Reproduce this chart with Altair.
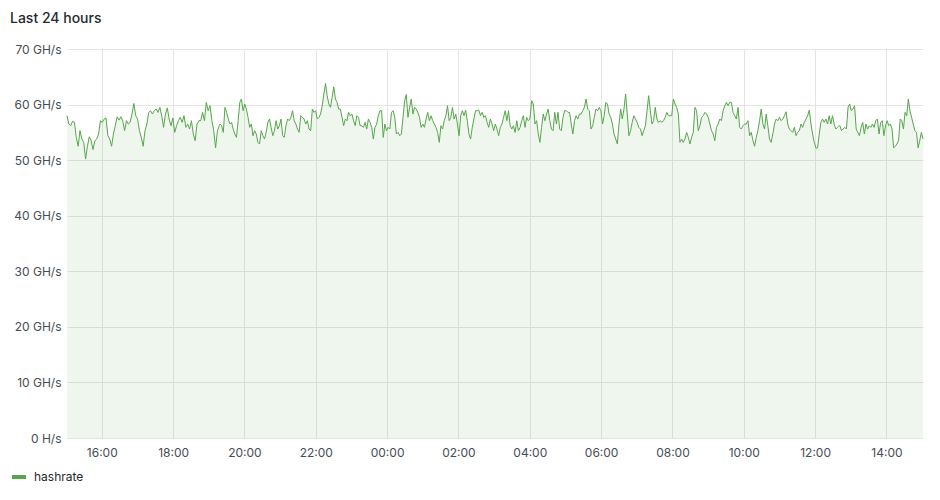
import altair as alt
import pandas as pd
import numpy as np

series_name = "hashrate"
title_text = "Last 24 hours"
y_ticks = [0, 10, 20, 30, 40, 50, 60, 70]
x_tick_hours = [16, 18, 20, 22, 0, 2, 4, 6, 8, 10, 12, 14]

# GH/s readings, six consecutive stretches of the 24 h window
seg_a = [58.0, 56.5, 56.2, 57.0, 56.8, 54.1, 52.5, 55.3, 53.8, 53.2, 50.2, 52.5, 54.2, 53.5, 51.9, 53.5,
         53.8, 54.7, 57.1, 56.8, 57.4, 57.6, 54.4, 53.8, 52.5, 54.7, 56.2, 57.8, 57.2, 57.8, 57.1, 55.3,
         57.1, 56.5, 56.8, 58.3, 60.2, 58.0, 57.4, 55.3, 54.1, 52.5, 55.3, 56.5, 58.6, 58.9, 58.3, 58.9,
         59.2, 58.6, 59.5, 58.0, 55.9, 58.3, 59.4, 57.4, 56.2, 57.6, 55.0, 56.2, 57.1, 57.7, 56.8, 58.0,
         55.9, 56.5, 55.6, 57.1, 54.7, 53.5, 56.5, 57.1, 57.1, 58.6, 57.1, 60.4, 58.9, 59.8, 57.1, 55.3,
         52.2, 55.3, 56.2]
seg_b = [56.5, 56.2, 55.0, 59.5, 58.6, 57.4, 56.5, 56.8, 55.6, 54.7, 54.1, 57.1, 60.4, 61.0, 58.9, 60.1,
         59.2, 57.7, 55.9, 56.5, 54.4, 55.3, 54.7, 53.2, 52.9, 55.3, 54.4, 53.8, 55.0, 56.8, 57.4, 55.9,
         54.4, 55.3, 57.1, 55.6, 56.2, 57.4, 54.4, 54.1, 56.2, 57.4, 57.1, 57.7, 58.9, 57.1, 56.5, 55.6,
         55.0, 58.0, 57.7, 57.4, 56.5, 57.1, 55.6, 55.3, 59.2, 58.6, 58.9, 57.4, 57.7, 58.3, 59.8, 61.9,
         63.8, 61.6, 60.1, 59.5, 61.3, 63.2, 61.0, 60.4, 59.2, 59.2, 57.7, 56.2, 57.4, 57.1, 58.6, 58.0,
         58.3, 57.1, 56.2, 58.0, 57.7, 56.2, 56.2, 55.9, 56.8, 55.6, 57.4, 56.8, 55.9, 53.8, 55.9]
seg_c = [56.5, 58.0, 58.9, 58.9, 54.1, 56.5, 55.3, 55.9, 55.6, 58.6, 58.9, 57.7, 54.7, 55.0, 54.4, 54.7,
         57.7, 60.7, 61.8, 57.7, 59.5, 61.0, 58.3, 59.5, 59.2, 58.6, 57.7, 55.9, 56.5, 55.9, 57.4, 58.6,
         57.1, 58.0, 57.1, 56.5, 55.9, 55.0, 53.2, 56.2, 55.6, 57.1, 58.0, 59.8, 57.1, 57.7, 59.5, 57.4,
         58.3, 56.5, 54.4, 58.0, 58.9, 58.0, 59.0, 57.1, 54.7, 53.8, 55.9, 57.4, 58.9, 58.9, 59.0, 58.0,
         58.6, 57.7, 58.0, 56.8, 55.9, 57.4, 56.5, 55.3, 56.5, 55.6, 54.4, 55.9, 56.5, 57.7, 58.9, 57.1,
         58.9, 56.2, 55.6, 56.2, 55.0, 57.1, 55.3, 55.9, 57.1, 58.0, 55.9, 57.7, 57.1, 57.4]
seg_d = [60.7, 60.1, 56.5, 57.1, 54.7, 53.2, 55.9, 58.3, 57.1, 58.3, 59.2, 57.1, 55.6, 55.3, 58.6, 56.5,
         58.6, 55.6, 55.3, 57.7, 58.9, 58.9, 58.6, 58.6, 56.5, 54.7, 57.1, 58.0, 57.4, 58.3, 58.3, 58.9,
         59.5, 61.0, 59.2, 58.9, 55.6, 56.2, 57.7, 59.2, 58.9, 59.5, 58.9, 56.5, 58.0, 60.4, 60.1, 58.3,
         57.7, 56.5, 54.7, 53.8, 52.9, 56.5, 59.2, 57.4, 59.2, 61.9, 58.3, 54.4, 55.3, 56.8, 58.0, 57.4,
         56.8, 55.9, 55.6, 54.4, 55.3, 56.2, 58.9, 61.6, 58.9, 56.5, 57.1, 59.5, 57.4, 56.8, 57.1, 56.8,
         57.1, 57.7, 58.6, 58.0, 58.0, 58.0, 61.0, 60.1, 59.5, 58.3, 53.2, 53.8, 53.2, 53.8]
seg_e = [55.0, 54.1, 52.9, 54.1, 55.0, 59.5, 58.9, 55.3, 56.2, 57.7, 58.0, 58.6, 58.3, 57.7, 56.5, 55.3,
         54.7, 53.5, 55.9, 56.5, 57.4, 57.1, 58.9, 59.8, 60.4, 59.8, 60.4, 60.4, 58.6, 58.0, 57.4, 59.5,
         55.9, 55.6, 56.2, 56.5, 56.5, 57.1, 54.4, 55.0, 53.5, 52.5, 54.1, 55.3, 57.1, 59.2, 56.5, 55.6,
         58.3, 56.2, 53.8, 53.2, 54.7, 56.5, 57.4, 57.1, 57.7, 57.1, 57.4, 58.0, 58.7, 56.5, 55.6, 55.3,
         55.0, 55.9, 54.4, 55.0, 55.3, 56.5, 55.9, 56.8, 57.4, 58.0, 59.0, 56.5, 54.7, 53.2, 52.2, 52.2,
         54.7, 56.8, 57.4, 56.8, 57.4, 56.5, 58.0, 56.5, 58.0, 56.5, 55.6, 55.9, 56.2]
seg_f = [56.2, 55.3, 55.6, 55.9, 55.6, 59.5, 60.1, 58.9, 59.2, 59.8, 55.6, 55.0, 54.4, 55.9, 56.8, 54.7,
         56.5, 55.6, 56.2, 55.9, 56.5, 55.9, 57.1, 57.4, 54.7, 56.8, 57.1, 54.4, 56.2, 57.1, 56.2, 56.5,
         55.6, 52.2, 52.5, 52.9, 53.5, 57.4, 57.1, 55.6, 58.6, 58.0, 61.0, 58.9, 57.7, 56.5, 55.3, 55.0,
         52.2, 53.5, 55.0, 53.8]

# minutes after the window start covered by each stretch
seg_start_min = [0.0, 257.4, 520.9, 781.7, 1042.4, 1300.2]
seg_end_min = [256.2, 518.1, 778.8, 1039.5, 1298.9, 1440.0]

start = pd.Timestamp("2024-05-01 15:01:30")
rows = []
for vals, a, b in zip([seg_a, seg_b, seg_c, seg_d, seg_e, seg_f], seg_start_min, seg_end_min):
    for m, v in zip(np.linspace(a, b, len(vals)), vals):
        rows.append({"time": start + pd.Timedelta(minutes=float(m)), "value": v, "series": series_name})
df = pd.DataFrame(rows)

tick_vals = [alt.DateTime(year=2024, month=5, date=(1 if h >= 15 else 2), hours=h) for h in x_tick_hours]
dom = [alt.DateTime(year=2024, month=5, date=1, hours=15, minutes=1, seconds=30),
       alt.DateTime(year=2024, month=5, date=2, hours=15, minutes=1, seconds=30)]

GREEN = "#56A64B"
LABEL = "#464c54"
GRID = "#e4e4e4"
FONT = "Inter"

x_enc = alt.X("time:T", scale=alt.Scale(domain=dom),
              axis=alt.Axis(values=tick_vals, format="%H:%M", title=None, ticks=False, domain=False,
                            labelPadding=9, grid=True, gridColor=GRID, labelFontSize=12,
                            labelColor=LABEL, labelFont=FONT))
y_enc = alt.Y("value:Q", scale=alt.Scale(domain=[0, 70], nice=False),
              axis=alt.Axis(values=y_ticks, title=None, ticks=False, domain=False, labelPadding=6,
                            labelExpr="datum.value == 0 ? '0 H/s' : datum.value + ' GH/s'",
                            grid=True, gridColor=GRID, labelFontSize=12, labelColor=LABEL,
                            labelFont=FONT))

area = alt.Chart(df).mark_area(color=GREEN, fillOpacity=0.1).encode(x=x_enc, y=y_enc)
line = alt.Chart(df).mark_line(strokeWidth=1).encode(
    x=x_enc, y=y_enc,
    color=alt.Color("series:N", scale=alt.Scale(range=[GREEN]),
                    legend=alt.Legend(title=None, orient="none", legendX=-57, legendY=419,
                                      symbolType="stroke", symbolStrokeWidth=4, symbolSize=196,
                                      labelFontSize=12, labelFont=FONT, labelColor="#24292e",
                                      padding=0, labelOffset=6)),
)

chart = alt.layer(area, line).properties(
    width=856, height=389,
    padding={"left": 59, "top": 41, "right": 9, "bottom": 50},
    autosize=alt.AutoSizeParams(type="none"),
    background="white",
    title=alt.TitleParams(title_text, anchor="start", frame="group", dx=-57, fontSize=14,
                          fontWeight=500, font=FONT, color="#24292e", offset=17),
).configure_view(strokeWidth=0)

chart.save("out.html", embed_options={"renderer": "svg", "actions": False})
